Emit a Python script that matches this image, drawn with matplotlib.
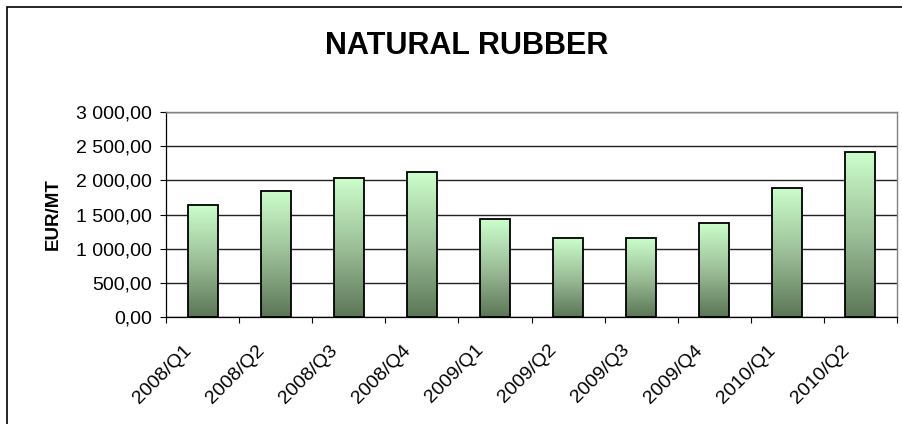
import numpy as np
import matplotlib
matplotlib.use('Agg')
import matplotlib.pyplot as plt
from matplotlib.patches import Rectangle
from matplotlib.ticker import FuncFormatter, MultipleLocator
from matplotlib.colors import LinearSegmentedColormap
from matplotlib.transforms import ScaledTranslation

plt.rcParams['font.family'] = ['Liberation Sans', 'DejaVu Sans']

quarters = ['2008/Q1', '2008/Q2', '2008/Q3', '2008/Q4', '2009/Q1',
            '2009/Q2', '2009/Q3', '2009/Q4', '2010/Q1', '2010/Q2']
prices = [1643, 1844, 2039, 2127, 1429, 1161, 1161, 1376, 1888, 2420]

W, H = 903, 424
fig = plt.figure(figsize=(W / 100, H / 100), dpi=100, facecolor='white')
ax = fig.add_axes([166 / W, 1 - 317 / H, (897 - 166) / W, (317 - 112) / H])

# chart area frame (only left and top visible in the picture)
fig.add_artist(Rectangle((7 / W, -0.2), 1.5, 1.2 - 7 / H, transform=fig.transFigure,
                         facecolor='none', edgecolor='black', lw=1.2))

x = np.arange(len(quarters))
bar_w = 0.41

# gradient fill, light on top, dark at bottom, for each bar separately
cmap = LinearSegmentedColormap.from_list('rub', ['#5b7656', '#9cbf98', '#ccffcc'])
grad = np.linspace(0, 1, 256).reshape(-1, 1)
for xi, v in zip(x, prices):
    ax.imshow(grad, cmap=cmap, aspect='auto', origin='lower', interpolation='bilinear',
              extent=(xi - bar_w / 2, xi + bar_w / 2, 0, v), zorder=3)
    ax.add_patch(Rectangle((xi - bar_w / 2, 0), bar_w, v, facecolor='none',
                           edgecolor='black', lw=1.3, zorder=4))
ax.set_xlim(-0.5, len(quarters) - 0.5)
ax.set_ylim(0, 3000)

# gridlines
ax.yaxis.set_major_locator(MultipleLocator(500))
ax.grid(axis='y', color='#222222', lw=1.0, zorder=1)
ax.set_axisbelow(True)

ax.yaxis.set_major_formatter(FuncFormatter(
    lambda v, p: f'{v:,.2f}'.replace(',', ' ').replace('.', ',')))
ax.tick_params(axis='y', direction='out', length=4.3, width=0.8, pad=6, labelsize=14)

# x: ticks between categories, labels at category centres
ax.set_xticks(np.arange(-0.5, len(quarters), 1.0))
ax.set_xticklabels([])
ax.set_xticks(x, quarters, minor=True)
ax.tick_params(axis='x', which='major', direction='out', length=4.3, width=0.8)
ax.tick_params(axis='x', which='minor', length=0, pad=22, labelsize=14)
for lab in ax.get_xticklabels(minor=True):
    lab.set_rotation(45)
    lab.set_ha('right')
    lab.set_va('center')
    lab.set_rotation_mode('anchor')
    lab.set_transform(lab.get_transform() + ScaledTranslation(-0.14, 0, fig.dpi_scale_trans))

for s in ['left', 'bottom']:
    ax.spines[s].set_color('black')
    ax.spines[s].set_linewidth(0.9)
for s in ['top', 'right']:
    ax.spines[s].set_color('#808080')
    ax.spines[s].set_linewidth(1.0)

ax.set_ylabel('EUR/MT', fontsize=13.5, fontweight='bold')
ax.yaxis.set_label_coords(-0.142, 0.5)

fig.text(467 / W, 1 - 46 / H, 'NATURAL RUBBER', fontsize=22, fontweight='bold',
         ha='center', va='center')

fig.savefig('out.png', dpi=100, facecolor='white')
